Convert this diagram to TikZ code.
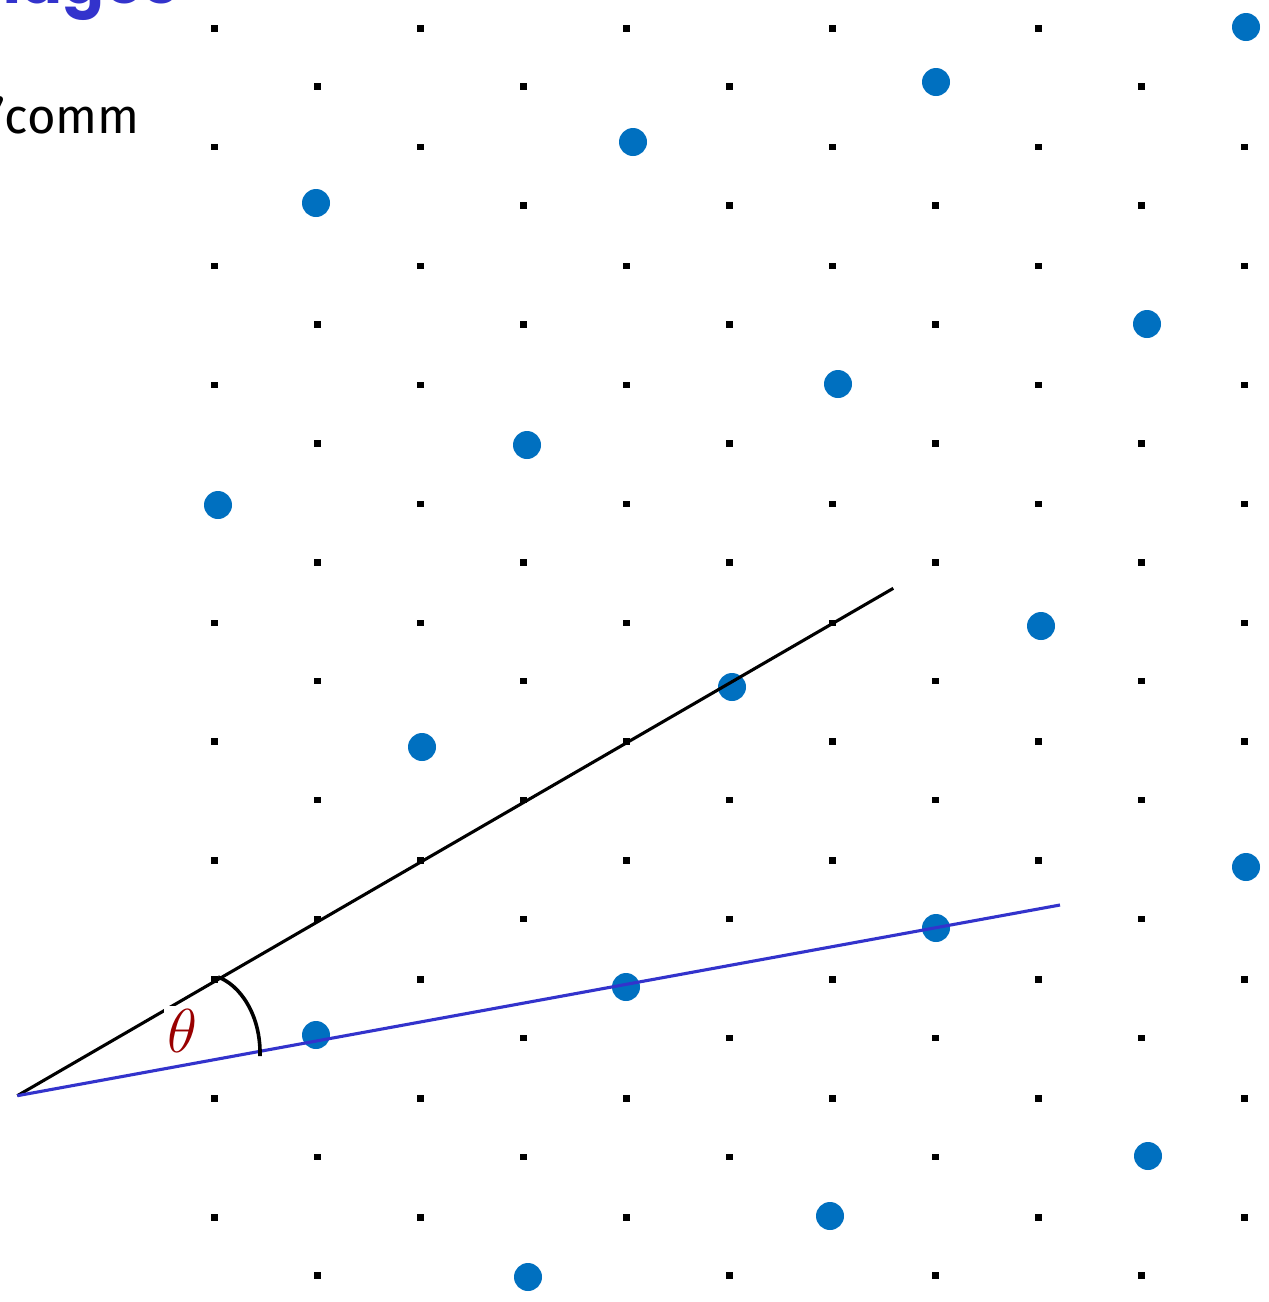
\RequirePackage{fix-cm}
\documentclass[tikz,border=0pt]{standalone}
\usepackage{fontspec}
\setsansfont{Poppins}
\newfontfamily\bodysans{Fira Sans}
\definecolor{dotblue}{RGB}{0,112,192}
\definecolor{lineblue}{RGB}{51,51,204}
\definecolor{headblue}{RGB}{51,51,204}
\definecolor{thetared}{RGB}{153,0,0}
\begin{document}
\begin{tikzpicture}[x=1pt,y=-1pt,
  latt/.style={rectangle,fill=black,inner sep=0pt,minimum size=6.5pt},
  bdot/.style={circle,fill=dotblue,inner sep=0pt,minimum size=28pt},
  refline/.style={line width=3.1pt,black},
  twistline/.style={line width=3.1pt,lineblue},
  anglearc/.style={line width=3.6pt,black}]
\useasboundingbox (0,0) rectangle (1269,1302);
\fill[white] (0,0) rectangle (1269,1302);
% headings (cut off)
\node[anchor=base east,inner sep=0pt,text=headblue,font=\sffamily\bfseries\fontsize{62}{70}\selectfont] (head) at (178,3) {Images};
\node[anchor=base east,inner sep=0pt,font=\bodysans\fontsize{49}{58}\selectfont] (comm) at (140,133) {’comm};
% black lattice
\foreach \i in {0,...,5}{\foreach \k in {0,...,10}{
  \node[latt] (a\i-\k) at ({214.5+206*\i},{28.3+118.9*\k}) {};}}
\foreach \i in {0,...,4}{\foreach \k in {0,...,10}{
  \node[latt] (c\i-\k) at ({317.5+206*\i},{86.7+118.9*\k}) {};}}
% blue superlattice
\foreach \n/\x/\y in {1/1246/27,2/936/82,3/633/142,4/316/203,
  5/1147/324,6/838/384,7/527/445,8/218/505,
  9/1041/626,10/732/687,11/422/747,
  12/1246/867,13/936/928,14/626/987,15/316/1035,
  16/1148/1156,17/830/1216,18/528/1277}{
  \node[bdot] (b\n) at (\x,\y) {};}
% lines
\coordinate (O) at (17.3,1095.7);
\coordinate (Pend) at (893.3,588.3);
\coordinate (Qend) at (1060,905);
\draw[refline] (O) -- (Pend);
\draw[twistline] (O) -- (Qend);
\coordinate (arcS) at (218,977);
\coordinate (arcE) at (260,1056);
\draw[anglearc] (arcS) .. controls (240,985) and (261,1015) .. (arcE);
\node[fill=white,inner sep=3pt,text=thetared,font=\fontsize{62}{70}\selectfont] (th) at (182,1031) {$\theta$};
\end{tikzpicture}
\end{document}
